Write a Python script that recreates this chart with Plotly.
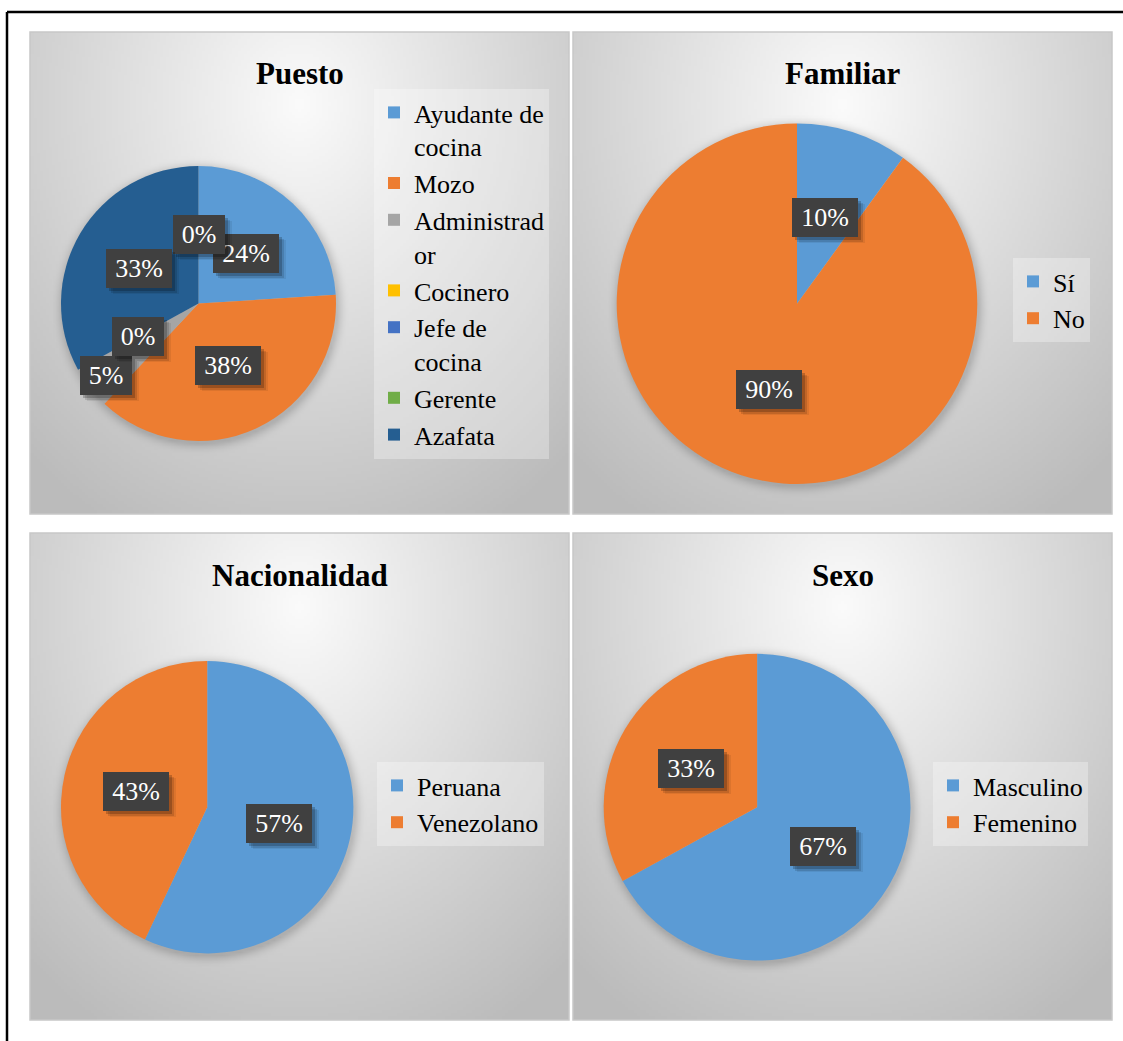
import base64
import struct
import textwrap
import zlib

import numpy as np
import plotly.graph_objects as go

# ---------------------------------------------------------------- data
puesto_categorias = ["Ayudante de cocina", "Mozo", "Administrador", "Cocinero",
                     "Jefe de cocina", "Gerente", "Azafata"]
puesto_valores = [24, 38, 5, 0, 0, None, 33]          # % (Gerente: sin dato)

familiar_categorias = ["Sí", "No"]
familiar_valores = [10, 90]

nacionalidad_categorias = ["Peruana", "Venezolano"]
nacionalidad_valores = [57, 43]

sexo_categorias = ["Masculino", "Femenino"]
sexo_valores = [67, 33]

titulos = ["Puesto", "Familiar", "Nacionalidad", "Sexo"]

# ---------------------------------------------------------------- styling
W, H = 1123, 1041
FONT = "Times New Roman"
PALETA = ["#5B9BD5", "#ED7D31", "#A5A5A5", "#FFC000", "#4472C4", "#70AD47", "#255E91"]

# chart areas (left, top, right, bottom) in px
paneles = [(30, 32, 569, 514), (573, 32, 1112, 514),
           (30, 533, 569, 1020), (573, 533, 1112, 1020)]
# pie centre / radius in px
pies = [(198.5, 303.5, 137.5), (797.0, 303.7, 180.3),
        (207.2, 807.2, 146.2), (757.1, 807.2, 153.4)]
# legend top-left corners in px
leyendas = [(374, 89), (1013, 258), (377, 762), (933, 762)]

# data-label placement tweaks for the crowded small slices (Puesto)
ajustes_etiquetas = {"Administrador": {"r": 0.85}, "Jefe de cocina": {"frac": 0.0}}


def px_x(x):
    return x / W


def px_y(y):
    return 1 - y / H


# ---------------------------------------------------------------- background bitmap
def png_uri(rgb):
    h, w, _ = rgb.shape
    flat = rgb.reshape(h, w * 3).astype(np.int16)
    sub = flat.copy()
    sub[:, 3:] = flat[:, 3:] - flat[:, :-3]
    sub %= 256
    rows = np.hstack([np.ones((h, 1), np.uint8), sub.astype(np.uint8)])

    def chunk(tag, data):
        return (struct.pack(">I", len(data)) + tag + data
                + struct.pack(">I", zlib.crc32(tag + data) & 0xFFFFFFFF))

    png = (b"\x89PNG\r\n\x1a\n"
           + chunk(b"IHDR", struct.pack(">IIBBBBB", w, h, 8, 2, 0, 0, 0))
           + chunk(b"IDAT", zlib.compress(rows.tobytes(), 9))
           + chunk(b"IEND", b""))
    return "data:image/png;base64," + base64.b64encode(png).decode()


# one bitmap per chart area, at reduced resolution (the browser smooths it)
ESC = 3
fondos = []
for (x0, y0, x1, y1), (cx, cy, r) in zip(paneles, pies):
    w, h = x1 - x0, y1 - y0
    nw, nh = int(round(w / ESC)), int(round(h / ESC))
    yy, xx = np.mgrid[0:nh, 0:nw].astype(float)
    xx = x0 + (xx + 0.5) * w / nw
    yy = y0 + (yy + 0.5) * h / nh
    gx = (xx - (x0 + x1) / 2) / (0.75 * w)
    gy = (yy - (y0 + 0.15 * h)) / (1.0 * h)
    t = np.clip(np.sqrt(gx ** 2 + gy ** 2), 0, 1)
    tono = 251 - t * 64
    # soft shadow round the pie
    d = np.sqrt((xx - cx - 1.5) ** 2 + (yy - cy - 2.5) ** 2)
    halo = np.clip(1 - (d - r) / 12, 0, 1) ** 2 * 0.16
    tono = np.clip(tono * (1 - halo), 0, 255).astype(np.uint8)
    rgb = np.repeat(tono[:, :, None], 3, axis=2)
    fondos.append(dict(source=png_uri(rgb), xref="paper", yref="paper",
                       x=px_x(x0), y=px_y(y0), sizex=w / W, sizey=h / H,
                       sizing="stretch", xanchor="left", yanchor="top", layer="below"))

# ---------------------------------------------------------------- figure
fig = go.Figure()

graficos = [
    (puesto_categorias, puesto_valores),
    (familiar_categorias, familiar_valores),
    (nacionalidad_categorias, nacionalidad_valores),
    (sexo_categorias, sexo_valores),
]

annotations = []
for k, ((cats, vals), (cx, cy, r)) in enumerate(zip(graficos, pies)):
    nombre_leyenda = "legend" if k == 0 else f"legend{k + 1}"
    etiquetas = ["<br>".join(textwrap.wrap(c, 11)) for c in cats]
    fig.add_trace(go.Pie(
        labels=etiquetas,
        values=[v if v is not None else 0 for v in vals],
        marker=dict(colors=PALETA[:len(cats)], line=dict(width=0)),
        sort=False, direction="clockwise", rotation=0,
        textinfo="none", hoverinfo="label+percent",
        domain=dict(x=[px_x(cx - r), px_x(cx + r)], y=[px_y(cy + r), px_y(cy - r)]),
        legend=nombre_leyenda,
    ))

    total = sum(v for v in vals if v is not None)
    acum = 0.0
    for cat, v in zip(cats, vals):
        if v is None:
            continue
        frac = (acum + v / 2) / total
        radio = 0.5
        aj = ajustes_etiquetas.get(cat, {}) if k == 0 else {}
        frac = aj.get("frac", frac)
        radio = aj.get("r", radio)
        acum += v
        ang = 2 * np.pi * frac
        lx = cx + radio * r * np.sin(ang)
        ly = cy - radio * r * np.cos(ang)
        texto = f"{round(100 * v / total)}%"
        bw = 14 * len(texto) + 24
        comunes = dict(x=px_x(lx), y=px_y(ly), xref="paper", yref="paper",
                       showarrow=False, xanchor="center", yanchor="middle",
                       width=bw, height=39, borderpad=0, borderwidth=0)
        # soft drop shadow: stacked translucent boxes without text
        for dx, dy, a in [(7, -6, 0.07), (5, -5, 0.12), (3, -3, 0.2)]:
            sombra = dict(comunes)
            sombra.update(text=" ", xshift=dx, yshift=dy, bgcolor=f"rgba(0,0,0,{a})",
                          font=dict(family=FONT, size=26, color="rgba(0,0,0,0)"))
            annotations.append(sombra)
        principal = dict(comunes)
        principal.update(text=texto, bgcolor="#404040",
                         font=dict(family=FONT, size=26, color="#FFFFFF"))
        annotations.append(principal)

for titulo, (x0, y0, x1, y1) in zip(titulos, paneles):
    annotations.append(dict(
        x=px_x((x0 + x1) / 2), y=px_y(y0 + 42), xref="paper", yref="paper",
        text=f"<b>{titulo}</b>", showarrow=False, xanchor="center", yanchor="middle",
        font=dict(family=FONT, size=31, color="#000000")))

shapes = []
for (x0, y0, x1, y1) in paneles:
    shapes.append(dict(type="rect", xref="paper", yref="paper",
                       x0=px_x(x0), x1=px_x(x1), y0=px_y(y1), y1=px_y(y0),
                       line=dict(color="#C8C8C8", width=1.5), layer="below"))
# outer frame
shapes.append(dict(type="line", xref="paper", yref="paper",
                   x0=px_x(7), x1=1.0, y0=px_y(12), y1=px_y(12),
                   line=dict(color="#000000", width=2.5)))
shapes.append(dict(type="line", xref="paper", yref="paper",
                   x0=px_x(7), x1=px_x(7), y0=px_y(12), y1=0.0,
                   line=dict(color="#000000", width=2.5)))

legend_cfg = {}
for k, (lx, ly) in enumerate(leyendas):
    nombre = "legend" if k == 0 else f"legend{k + 1}"
    legend_cfg[nombre] = dict(
        x=px_x(lx), y=px_y(ly), xanchor="left", yanchor="top",
        bgcolor="rgba(255,255,255,0.3)", borderwidth=0,
        font=dict(family=FONT, size=26, color="#000000"),
        valign="top", traceorder="normal", itemclick=False, itemdoubleclick=False,
    )

fig.update_layout(
    width=W, height=H, autosize=False,
    margin=dict(l=0, r=0, t=0, b=0),
    paper_bgcolor="#FFFFFF", plot_bgcolor="#FFFFFF",
    showlegend=True,
    annotations=annotations,
    shapes=shapes,
    images=fondos,
    **legend_cfg,
)

fig.write_html("out.html")
